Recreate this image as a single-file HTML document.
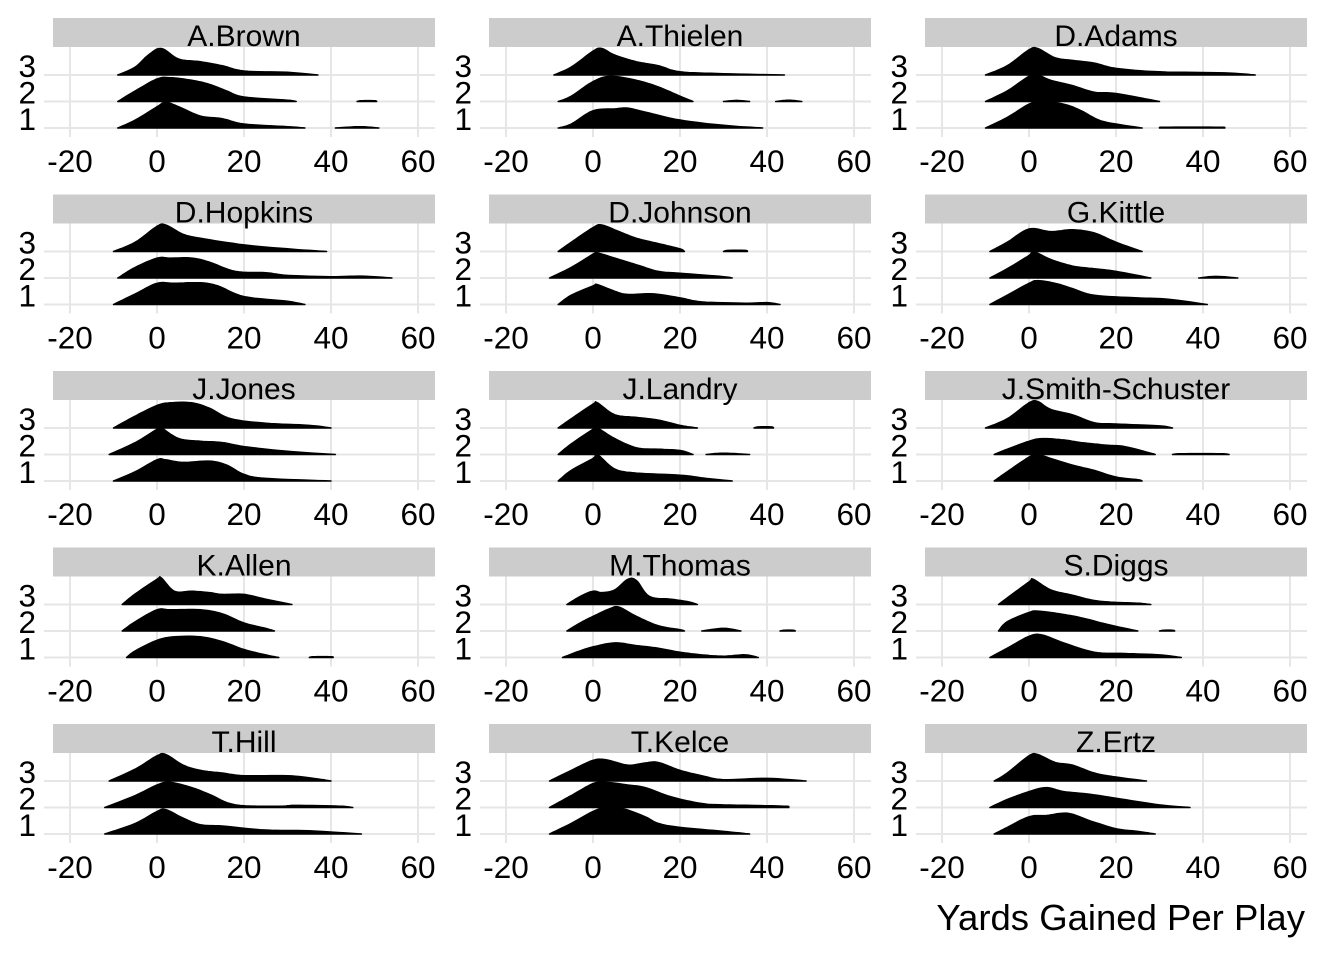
<!DOCTYPE html>
<html><head><meta charset="utf-8"><style>
html,body{margin:0;padding:0;background:#fff;}
svg text{font-family:"Liberation Sans",Arial,sans-serif;fill:#000;}
</style></head><body>
<svg id="chart" width="1344" height="960" viewBox="0 0 1344 960" xmlns="http://www.w3.org/2000/svg">
<text x="1305" y="930" font-size="36.5" text-anchor="end">Yards Gained Per Play</text>
</svg>
<script>
const players = ["A.Brown","A.Thielen","D.Adams","D.Hopkins","D.Johnson","G.Kittle","J.Jones","J.Landry","J.Smith-Schuster","K.Allen","M.Thomas","S.Diggs","T.Hill","T.Kelce","Z.Ertz"];
const groupLabels = ["3","2","1"];
const xTicks = [-20,0,20,40,60];
// ridges[player] = [group3, group2, group1]; each group = list of segments; segment = [[yard, density], ...]
const ridges = [
 [[[[-9,0],[-5,.3],[-2,.75],[1,1.0],[5,.6],[10,.5],[15,.35],[20,.15],[30,.1],[37,0]]],
  [[[-9,0],[-5,.4],[0,.85],[3,.9],[8,.8],[12,.65],[16,.4],[20,.17],[30,.05],[32,0]],[[46,0],[47,.03],[50,.03],[50.5,0]]],
  [[[-9,0],[-5,.3],[0,.8],[2,.97],[5,.8],[10,.45],[15,.35],[20,.15],[30,.05],[34,0]],[[41,0],[44,.03],[47,.05],[51,0]]]],
 [[[[-9,0],[-5,.3],[0,.9],[2,1.0],[5,.75],[10,.5],[15,.35],[20,.12],[30,.05],[44,0]]],
  [[[-8,0],[-5,.2],[0,.75],[4,.95],[10,.8],[15,.55],[20,.2],[23,0]],[[30,0],[33,.04],[36,0]],[[42,0],[45,.05],[48,0]]],
  [[[-8,0],[-5,.15],[0,.65],[5,.72],[8,.75],[12,.6],[20,.3],[30,.1],[39,0]]]],
 [[[[-10,0],[-5,.35],[0,.95],[2,1.0],[6,.65],[10,.55],[15,.45],[20,.25],[30,.12],[45,.08],[52,0]]],
  [[[-10,0],[-5,.4],[0,.95],[2,1.0],[5,.8],[10,.6],[15,.35],[20,.3],[30,0]]],
  [[[-10,0],[-5,.4],[0,.9],[3,1.0],[8,.9],[12,.65],[16,.3],[20,.15],[26,0]],[[30,0],[31,.03],[44,.03],[45,0]]]],
 [[[[-10,0],[-5,.35],[0,.95],[2,1.0],[6,.65],[10,.5],[20,.25],[30,.1],[39,0]]],
  [[[-9,0],[-5,.4],[0,.75],[3,.75],[8,.75],[12,.6],[18,.25],[25,.2],[30,.1],[40,.05],[47,.07],[54,0]]],
  [[[-10,0],[-5,.4],[0,.8],[4,.8],[10,.82],[14,.7],[20,.3],[30,.12],[34,0]]]],
 [[[[-8,0],[-5,.35],[0,.9],[2,1.0],[6,.75],[10,.5],[15,.3],[20,.1],[21,0]],[[30,0],[31,.04],[35,.04],[35.5,0]]],
  [[[-10,0],[-5,.4],[0,.9],[1,.95],[5,.75],[10,.5],[15,.25],[20,.18],[30,.05],[32,0]]],
  [[[-8,0],[-5,.35],[0,.7],[1,.75],[5,.5],[8,.38],[14,.4],[20,.25],[25,.1],[35,.05],[40,.07],[43,0]]]],
 [[[[-9,0],[-5,.35],[0,.85],[5,.75],[10,.82],[15,.7],[20,.35],[26,0]]],
  [[[-9,0],[-5,.35],[0,.85],[1,1.0],[5,.7],[10,.45],[15,.35],[20,.25],[28,0]],[[39,0],[43,.06],[48,0]]],
  [[[-9,0],[-5,.35],[0,.8],[2,.9],[6,.8],[10,.6],[15,.35],[25,.25],[32,.2],[41,0]]]],
 [[[[-10,0],[-5,.45],[0,.85],[3,.95],[8,.95],[12,.75],[17,.35],[25,.18],[35,.1],[40,0]]],
  [[[-11,0],[-5,.45],[0,.95],[1,1.0],[5,.6],[10,.5],[15,.45],[20,.3],[30,.12],[41,0]]],
  [[[-10,0],[-5,.35],[0,.8],[2,.8],[6,.7],[12,.75],[16,.6],[20,.25],[25,.1],[40,0]]]],
 [[[[-8,0],[-5,.35],[0,.9],[1,.95],[5,.5],[10,.4],[15,.3],[20,.1],[24,0]],[[37,0],[38,.04],[41,.04],[41.5,0]]],
  [[[-8,0],[-5,.4],[0,.95],[1,1.0],[5,.6],[10,.25],[15,.2],[20,.15],[23,0]],[[26,0],[30,.05],[36,0]]],
  [[[-8,0],[-5,.4],[0,.85],[1,1.0],[5,.45],[10,.3],[20,.22],[26,.1],[32,0]]]],
 [[[[-10,0],[-5,.35],[0,.95],[2,1.0],[5,.7],[10,.5],[15,.2],[20,.15],[30,.08],[33,0]]],
  [[[-8,0],[-5,.2],[0,.5],[3,.6],[8,.55],[12,.45],[18,.35],[22,.3],[28,.05],[29,0]],[[33,0],[35,.03],[44,.03],[46,0]]],
  [[[-8,0],[-5,.35],[0,.9],[2,1.0],[5,.85],[10,.6],[15,.4],[20,.15],[25,.05],[26,0]]]],
 [[[[-8,0],[-5,.4],[0,.95],[1,1.0],[4,.5],[8,.5],[12,.45],[15,.38],[20,.38],[25,.2],[31,0]]],
  [[[-8,0],[-5,.35],[0,.8],[3,.8],[10,.8],[15,.65],[20,.3],[25,.1],[27,0]]],
  [[[-7,0],[-5,.25],[0,.65],[4,.78],[10,.78],[15,.6],[20,.3],[25,.1],[28,0]],[[35,0],[36,.03],[40,.03],[40.5,0]]]],
 [[[[-6,0],[-3,.3],[0,.5],[2,.45],[5,.55],[8,.95],[10,.9],[13,.3],[18,.2],[22,.1],[24,0]]],
  [[[-6,0],[-3,.3],[0,.55],[4,.85],[6,.9],[10,.55],[15,.2],[20,.05],[21,0]],[[25,0],[30,.1],[34,0]],[[43,0],[44,.03],[46,.03],[46.5,0]]],
  [[[-7,0],[-3,.25],[0,.4],[5,.55],[10,.45],[15,.35],[20,.2],[25,.1],[30,.05],[35,.1],[38,0]]]],
 [[[[-7,0],[-5,.25],[0,.85],[1,.95],[5,.55],[10,.35],[15,.15],[20,.08],[25,.05],[28,0]]],
  [[[-7,0],[-5,.35],[0,.7],[2,.75],[7,.65],[12,.5],[18,.25],[25,0]],[[30,0],[31,.03],[33,.03],[33.5,0]]],
  [[[-9,0],[-5,.35],[0,.8],[3,.85],[8,.55],[15,.2],[22,.15],[30,.1],[35,0]]]],
 [[[[-11,0],[-5,.45],[0,.95],[2,1.0],[6,.6],[10,.4],[15,.3],[20,.2],[30,.2],[36,.1],[40,0]]],
  [[[-12,0],[-5,.45],[0,.85],[3,.95],[8,.75],[12,.5],[18,.1],[28,.05],[32,.08],[42,.05],[45,0]]],
  [[[-12,0],[-5,.4],[0,.85],[2,.92],[6,.6],[10,.35],[15,.3],[25,.15],[35,.12],[47,0]]]],
 [[[[-10,0],[-5,.4],[0,.78],[3,.8],[8,.6],[12,.68],[15,.7],[20,.4],[25,.2],[30,.05],[40,.1],[49,0]]],
  [[[-10,0],[-5,.45],[0,.9],[3,.95],[8,.85],[12,.75],[18,.4],[25,.15],[30,.1],[44,.05],[45,0]]],
  [[[-10,0],[-5,.4],[0,.85],[3,1.0],[7,.95],[12,.65],[15,.4],[20,.25],[30,.1],[36,0]]]],
 [[[[-8,0],[-5,.3],[0,.95],[2,1.0],[6,.7],[10,.6],[15,.3],[20,.15],[27,0]]],
  [[[-9,0],[-5,.3],[0,.6],[4,.75],[8,.6],[14,.5],[20,.35],[30,.1],[37,0]]],
  [[[-8,0],[-5,.25],[0,.65],[4,.7],[9,.78],[14,.5],[20,.2],[25,.1],[29,0]]]]
];
const NS="http://www.w3.org/2000/svg";
const svg=document.getElementById('chart');
const colStep=436, rowStep=176.5, spacing=26.5;
function xScale(col,yard){return col*colStep+157+yard*4.35;}
function baseY(row,g){return row*rowStep+75+g*spacing;}
function mk(tag,attrs,parent){const e=document.createElementNS(NS,tag);for(const k in attrs)e.setAttribute(k,attrs[k]);(parent||svg).appendChild(e);return e;}
function smoothPts(pts){
  // Catmull-Rom sampling in data space
  const out=[];
  for(let i=0;i<pts.length-1;i++){
    const p0=pts[Math.max(0,i-1)],p1=pts[i],p2=pts[i+1],p3=pts[Math.min(pts.length-1,i+2)];
    for(let s=0;s<8;s++){
      const t=s/8,t2=t*t,t3=t2*t;
      const f=(a,b,c,d)=>0.5*((2*b)+(-a+c)*t+(2*a-5*b+4*c-d)*t2+(-a+3*b-3*c+d)*t3);
      let x=f(p0[0],p1[0],p2[0],p3[0]);
      x=Math.min(Math.max(x,p1[0]),p2[0]);
      out.push([x,Math.max(0,f(p0[1],p1[1],p2[1],p3[1]))]);
    }
  }
  out.push(pts[pts.length-1]);
  return out;
}
players.forEach((name,i)=>{
  const col=i%3,row=Math.floor(i/3),ox=col*colStep,oy=row*rowStep;
  const g=mk('g',{});
  
  
  xTicks.forEach(t=>{
    const l=mk('line',{x1:xScale(col,t),x2:xScale(col,t),y1:oy+47,y2:oy+137,stroke:'#e6e6e6','stroke-width':2},g);
    
    
    const tx=mk('text',{x:xScale(col,t),y:oy+172,'font-size':31.5,'text-anchor':'middle'},g);
    tx.textContent=t;
    
    
  });
  groupLabels.forEach((lab,k)=>{
    const l=mk('line',{x1:ox+44,x2:ox+435,y1:baseY(row,k),y2:baseY(row,k),stroke:'#e6e6e6','stroke-width':2},g);
    
    
    const tx=mk('text',{x:ox+36,y:baseY(row,k)+2,'font-size':31.5,'text-anchor':'end'},g);
    tx.textContent=lab;
    
    
  });
  const st=mk('rect',{x:ox+53,y:oy+18,width:382,height:29,fill:'#cccccc'},g);
  
  
  const stt=mk('text',{x:ox+244,y:oy+46,'font-size':30,'text-anchor':'middle'},g);
  stt.textContent=name;
  
  
  ridges[i].forEach((segs,k)=>{
    const b=baseY(row,k);
    segs.forEach(seg=>{
      const sm=smoothPts(seg);
      let d='M'+xScale(col,seg[0][0]).toFixed(1)+','+b;
      sm.forEach(p=>{d+=' L'+xScale(col,p[0]).toFixed(1)+','+(b-p[1]*spacing).toFixed(1);});
      d+=' L'+xScale(col,seg[seg.length-1][0]).toFixed(1)+','+b+' Z';
      const p=mk('path',{d:d,fill:'#000',stroke:'#000','stroke-width':1.5,'stroke-linejoin':'round'},g);
      
      
    });
  });
});
</script>
</body></html>
